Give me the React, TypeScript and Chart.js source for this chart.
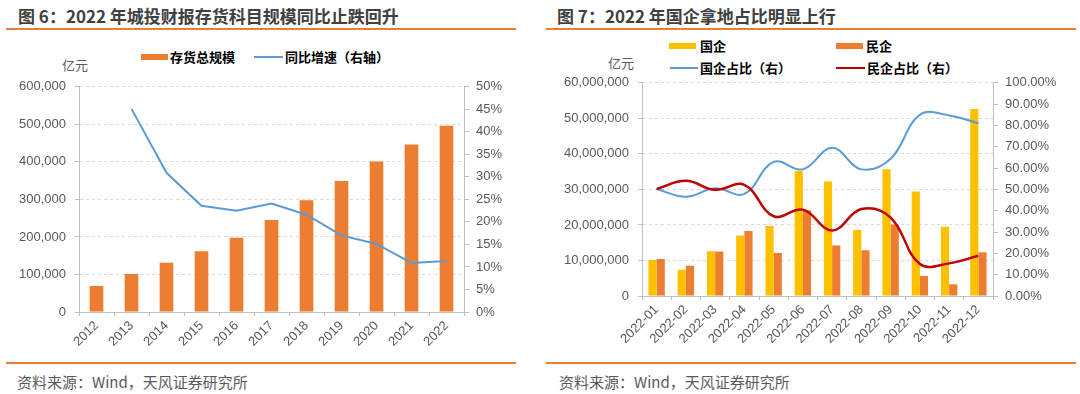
import React, { useEffect, useRef } from "react";
import { Chart, registerables } from "chart.js";

Chart.register(...registerables);

// ---------- Figure 6 data ----------
const years = ["2012", "2013", "2014", "2015", "2016", "2017", "2018", "2019", "2020", "2021", "2022"];
const inventoryTotal = [69000, 101000, 131000, 162000, 198000, 245000, 298000, 349000, 401000, 446000, 496000];
const inventoryGrowth = [null, 45.1, 30.9, 23.6, 22.5, 24.1, 21.6, 17.0, 15.1, 10.9, 11.3];

// ---------- Figure 7 data ----------
const months = ["2022-01", "2022-02", "2022-03", "2022-04", "2022-05", "2022-06", "2022-07", "2022-08", "2022-09", "2022-10", "2022-11", "2022-12"];
const soeLand = [10100000, 7400000, 12600000, 17000000, 19700000, 35200000, 32200000, 18600000, 35700000, 29400000, 19500000, 52600000];
const privateLand = [10400000, 8500000, 12500000, 18300000, 12100000, 24100000, 14200000, 12900000, 20100000, 5600000, 3300000, 12300000];
const soeShare = [50.2, 46.5, 50.5, 47.9, 62.9, 59.4, 69.5, 59.4, 64.4, 85.0, 84.7, 81.0];
const privateShare = [50.2, 54.0, 49.8, 52.1, 37.4, 40.5, 30.7, 40.8, 36.8, 15.0, 15.3, 18.9];

const NUM_FONT = "'Liberation Sans', Arial, sans-serif";
const CJK_FONT = "'Noto Sans CJK SC', 'Noto Sans', sans-serif";
const AXIS_TEXT = "#595959";
const AXIS_LINE = "#BFBFBF";
const GRID = "#D9D9D9";
const ORANGE = "#ED7D31";
const YELLOW = "#FFC000";
const BLUE = "#5B9BD5";
const RED = "#C00000";

const tickFont = { family: NUM_FONT, size: 13 };

function gridColor(ctx: any) {
  return ctx.tick && ctx.tick.value === 0 ? "rgba(0,0,0,0)" : GRID;
}

function xAxis(height: number) {
  return {
    type: "category",
    offset: true,
    grid: { display: true, drawOnChartArea: false, drawTicks: true, tickLength: 4, color: AXIS_LINE, tickColor: AXIS_LINE, offset: true },
    border: { display: true, color: AXIS_LINE },
    ticks: { maxRotation: 45, minRotation: 45, autoSkip: false, padding: 2, color: AXIS_TEXT, font: tickFont },
    afterFit: (s: any) => { s.height = height; },
  };
}

function LeftChart() {
  const ref = useRef<HTMLCanvasElement | null>(null);
  useEffect(() => {
    if (!ref.current) return;
    const chart = new Chart(ref.current, {
      type: "bar",
      data: {
        labels: years,
        datasets: [
          { type: "line", label: "同比增速（右轴）", data: inventoryGrowth, yAxisID: "y1", borderColor: BLUE, borderWidth: 2, pointRadius: 0, tension: 0, order: 0 } as any,
          { type: "bar", label: "存货总规模", data: inventoryTotal, yAxisID: "y", backgroundColor: ORANGE, barPercentage: 0.39, categoryPercentage: 1, order: 1 } as any,
        ],
      },
      options: {
        animation: false,
        responsive: false,
        maintainAspectRatio: false,
        layout: { padding: { top: 12, left: 0, right: 0, bottom: 0 } },
        plugins: { legend: { display: false }, tooltip: { enabled: false } },
        scales: {
          x: xAxis(48) as any,
          y: {
            position: "left",
            min: 0,
            max: 600000,
            ticks: { stepSize: 100000, padding: 9, color: AXIS_TEXT, font: tickFont, callback: (v: any) => Number(v).toLocaleString("en-US") },
            grid: { color: gridColor, tickColor: AXIS_LINE, tickLength: 4 },
            border: { color: AXIS_LINE, dash: [3, 3] },
            afterFit: (s: any) => { s.width = 79; },
          },
          y1: {
            position: "right",
            min: 0,
            max: 50,
            ticks: { stepSize: 5, padding: 7, color: AXIS_TEXT, font: tickFont, callback: (v: any) => `${Math.round(Number(v))}%` },
            grid: { drawOnChartArea: false, drawTicks: true, tickLength: 5, color: AXIS_LINE, tickColor: AXIS_LINE },
            border: { color: AXIS_LINE },
            afterFit: (s: any) => { s.width = 56; },
          },
        },
      } as any,
    });
    return () => chart.destroy();
  }, []);
  return <canvas ref={ref} width={520} height={290} style={{ position: "absolute", left: 0, top: 70, width: 520, height: 290 }} />;
}

function RightChart() {
  const ref = useRef<HTMLCanvasElement | null>(null);
  useEffect(() => {
    if (!ref.current) return;
    const chart = new Chart(ref.current, {
      type: "bar",
      data: {
        labels: months,
        datasets: [
          { type: "line", label: "民企占比（右）", data: privateShare, yAxisID: "y1", borderColor: RED, borderWidth: 2.5, pointRadius: 0, tension: 0.4, order: 0 } as any,
          { type: "line", label: "国企占比（右）", data: soeShare, yAxisID: "y1", borderColor: BLUE, borderWidth: 2, pointRadius: 0, tension: 0.4, order: 1 } as any,
          { type: "bar", label: "国企", data: soeLand, yAxisID: "y", backgroundColor: YELLOW, barPercentage: 1, categoryPercentage: 0.56, order: 2 } as any,
          { type: "bar", label: "民企", data: privateLand, yAxisID: "y", backgroundColor: ORANGE, barPercentage: 1, categoryPercentage: 0.56, order: 2 } as any,
        ],
      },
      options: {
        animation: false,
        responsive: false,
        maintainAspectRatio: false,
        layout: { padding: { top: 13, left: 0, right: 0, bottom: 0 } },
        plugins: { legend: { display: false }, tooltip: { enabled: false } },
        scales: {
          x: xAxis(64) as any,
          y: {
            position: "left",
            min: 0,
            max: 60000000,
            ticks: { stepSize: 10000000, padding: 9, color: AXIS_TEXT, font: tickFont, callback: (v: any) => Number(v).toLocaleString("en-US") },
            grid: { color: gridColor, tickColor: AXIS_LINE, tickLength: 4 },
            border: { color: AXIS_LINE, dash: [3, 3] },
            afterFit: (s: any) => { s.width = 102; },
          },
          y1: {
            position: "right",
            min: 0,
            max: 100,
            ticks: { stepSize: 10, padding: 7, color: AXIS_TEXT, font: tickFont, callback: (v: any) => `${Number(v).toFixed(2)}%` },
            grid: { drawOnChartArea: false, drawTicks: true, tickLength: 5, color: AXIS_LINE, tickColor: AXIS_LINE },
            border: { color: AXIS_LINE },
            afterFit: (s: any) => { s.width = 87; },
          },
        },
      } as any,
    });
    return () => chart.destroy();
  }, []);
  return <canvas ref={ref} width={540} height={294} style={{ position: "absolute", left: 540, top: 66, width: 540, height: 294 }} />;
}

const abs = (o: any) => ({ position: "absolute" as const, ...o });

function Text({ left, cy, size, weight = 400, color = "#404040", children }: any) {
  return (
    <div style={abs({ left, top: cy - 12, height: 24, lineHeight: "24px", fontSize: size, fontWeight: weight, color, whiteSpace: "nowrap", fontFamily: CJK_FONT })}>
      {children}
    </div>
  );
}

function Swatch({ left, cy, width, height, color }: any) {
  return <div style={abs({ left, top: cy - height / 2, width, height, background: color })} />;
}

export default function App() {
  return (
    <div style={abs({ left: 0, top: 0, width: 1080, height: 394, background: "#fff", overflow: "hidden", fontFamily: CJK_FONT })}>
      {/* titles */}
      <Text left={18} cy={16} size={17} weight={700} color="#404040">图 6：2022 年城投财报存货科目规模同比止跌回升</Text>
      <Text left={557} cy={16} size={17} weight={700} color="#404040">图 7：2022 年国企拿地占比明显上行</Text>
      <div style={abs({ left: 6, top: 28, width: 510, height: 2, background: ORANGE })} />
      <div style={abs({ left: 546, top: 28, width: 530, height: 2, background: ORANGE })} />

      {/* left legend */}
      <Swatch left={141} cy={57} width={27} height={6} color={ORANGE} />
      <Text left={170} cy={57} size={13} weight={700} color="#000">存货总规模</Text>
      <Swatch left={254} cy={57} width={29} height={2} color={BLUE} />
      <Text left={285} cy={57} size={13} weight={700} color="#000">同比增速（右轴）</Text>
      <Text left={62} cy={65} size={13} color={AXIS_TEXT}>亿元</Text>

      {/* right legend */}
      <Swatch left={669} cy={46} width={27} height={6} color={YELLOW} />
      <Text left={700} cy={46} size={13} weight={700} color="#000">国企</Text>
      <Swatch left={836} cy={46} width={27} height={6} color={ORANGE} />
      <Text left={866} cy={46} size={13} weight={700} color="#000">民企</Text>
      <Swatch left={670} cy={68} width={28} height={2} color={BLUE} />
      <Text left={700} cy={68} size={13} weight={700} color="#000">国企占比（右）</Text>
      <Swatch left={836} cy={68} width={29} height={2.5} color={RED} />
      <Text left={867} cy={68} size={13} weight={700} color="#000">民企占比（右）</Text>
      <Text left={608} cy={63} size={13} color={AXIS_TEXT}>亿元</Text>

      <LeftChart />
      <RightChart />

      {/* footers */}
      <div style={abs({ left: 6, top: 362, width: 510, height: 2, background: ORANGE })} />
      <div style={abs({ left: 546, top: 362, width: 530, height: 2, background: ORANGE })} />
      <Text left={17} cy={382} size={15} color={AXIS_TEXT}>资料来源：Wind，天风证券研究所</Text>
      <Text left={559} cy={382} size={15} color={AXIS_TEXT}>资料来源：Wind，天风证券研究所</Text>
    </div>
  );
}
